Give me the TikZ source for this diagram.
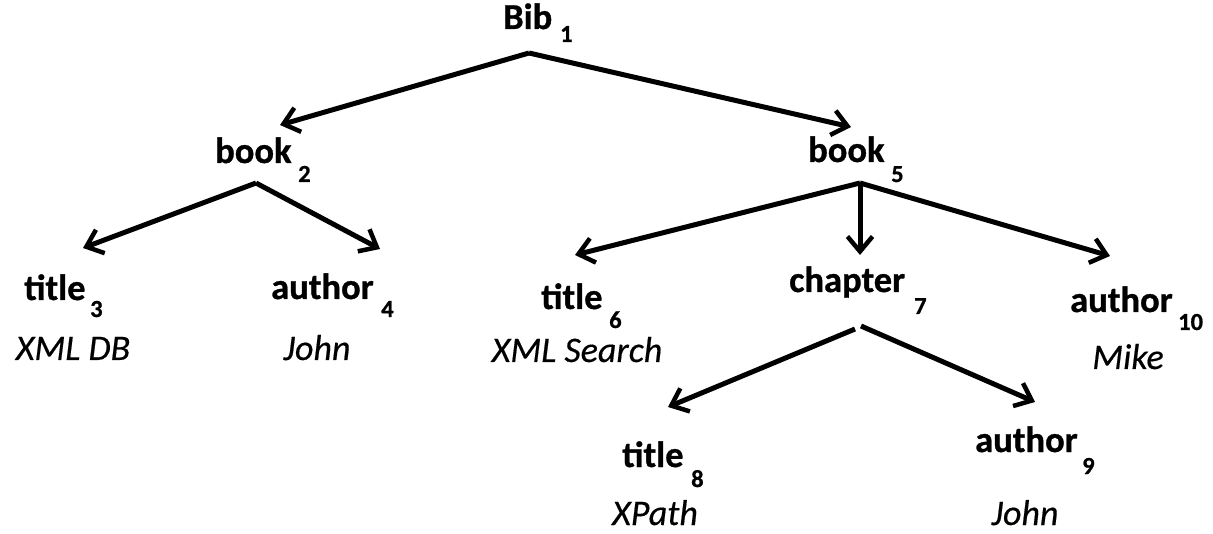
\documentclass[tikz,border=0pt]{standalone}
\usepackage{fontspec}
\setmainfont{Carlito}[BoldFeatures={FakeBold=0.8},ItalicFeatures={FakeBold=0.4}]
\usetikzlibrary{arrows.meta}
\tikzset{
  tag/.style={anchor=base west, inner sep=0pt, font=\fontsize{36.5}{42}\selectfont\bfseries},
  idx/.style={anchor=base west, inner sep=0pt, font=\fontsize{24.5}{28}\selectfont\bfseries},
  val/.style={anchor=base, inner sep=0pt, font=\fontsize{36}{40}\selectfont\itshape},
  edge/.style={line width=5pt, line join=miter,
    -{Straight Barb[length=15pt,width=25pt,line width=4.5pt]}},
}
\begin{document}
\begin{tikzpicture}[x=1pt,y=-1pt]
\useasboundingbox (0,0) rectangle (1213,534);

% element names with their node numbers
\node[tag] (bib)   at (503,29)  {Bib};     \node[idx] (bibn)  at (560,42)  {1};
\node[tag] (bookA) at (215,163) {book};    \node[idx] (bookAn) at (298,182) {2};
\node[tag] (bookB) at (808,162) {book};    \node[idx] (bookBn) at (891,182) {5};
\node[tag] (titA)  at (24,300)  {title};   \node[idx] (titAn)  at (90,317)  {3};
\node[tag] (autA)  at (271,299) {author};  \node[idx] (autAn)  at (381,317) {4};
\node[tag] (titB)  at (541,309) {title};   \node[idx] (titBn)  at (609,328) {6};
\node[tag] (chap)  at (789,292) {chapter}; \node[idx] (chapn)  at (914,314) {7};
\node[tag] (autC)  at (1070,312){author};  \node[idx] (autCn)  at (1178,330){10};
\node[tag] (titC)  at (622,467) {title};   \node[idx] (titCn)  at (691,487) {8};
\node[tag] (autB)  at (975,452) {author};  \node[idx] (autBn)  at (1082,474){9};

% text values
\node[val] (vA) at (73,360)   {XML DB};
\node[val] (vB) at (317,360)  {John};
\node[val] (vC) at (577,362)  {XML Search};
\node[val] (vD) at (1128,369) {Mike};
\node[val] (vE) at (655,525)  {XPath};
\node[val] (vF) at (1025,525) {John};

% edge end points
\coordinate (bibJ)   at (529,53);
\coordinate (bookAJ) at (256,183);
\coordinate (bookBJ) at (860,183);
\coordinate (chapJl) at (855,329);
\coordinate (chapJr) at (861,326);
\coordinate (toBookA) at (280,125);
\coordinate (toBookB) at (851,127);
\coordinate (toTitA)  at (83,248);
\coordinate (toAutA)  at (380,249);
\coordinate (toTitB)  at (575,255);
\coordinate (toChap)  at (860,255);
\coordinate (toAutC)  at (1110,256);
\coordinate (toTitC)  at (668,407);
\coordinate (toAutB)  at (1035,402);

\draw[edge] (bibJ) -- (toBookA);
\draw[edge] (bibJ) -- (toBookB);
\draw[edge] (bookAJ) -- (toTitA);
\draw[edge] (bookAJ) -- (toAutA);
\draw[edge] (bookBJ) -- (toTitB);
\draw[edge] (bookBJ) -- (toChap);
\draw[edge] (bookBJ) -- (toAutC);
\draw[edge] (chapJl) -- (toTitC);
\draw[edge] (chapJr) -- (toAutB);
\end{tikzpicture}
\end{document}
